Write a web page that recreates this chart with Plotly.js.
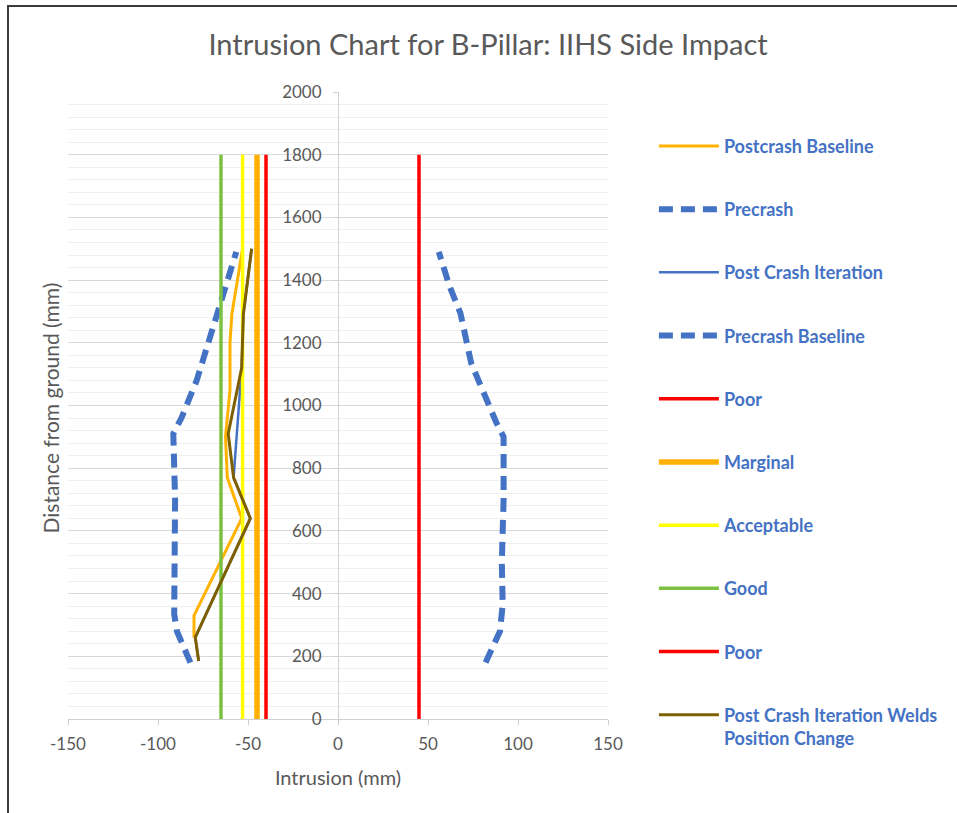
<!DOCTYPE html>
<html>
<head>
<meta charset="utf-8">
<script src="https://cdn.plot.ly/plotly-3.0.1.min.js"></script>
<style>
  html, body { margin: 0; padding: 0; background: #fff; }
  #frame { position: absolute; left: 0; top: 0; width: 957px; height: 813px; }
  #border { position: absolute; left: 7px; top: 5px; width: 960px; height: 820px; border-left: 2px solid #3a3a3a; border-top: 2px solid #3a3a3a; pointer-events: none; }
  #chart { position: absolute; left: 0; top: 0; width: 957px; height: 813px; }
</style>
</head>
<body>
<div id="frame">
  <div id="chart"></div>
  <div id="border"></div>
</div>
<script>
// ---- data ----
const postcrashBaselineY = [1500, 1290, 1200, 1050, 900, 770, 640, 330, 260];
const postcrashBaselineX = [-53, -59, -60, -60, -62.5, -61.5, -53.5, -80, -80];

const precrashY = [180, 280, 335, 500, 700, 910, 960, 1080, 1180, 1295, 1490];
const precrashX = [-82, -89.5, -91, -90.5, -90.5, -91.5, -87, -78.5, -73, -67.5, -56.5];

const postIterY = [1500, 1290, 1120, 910, 770, 640, 260, 185];
const postIterX = [-48, -52.6, -53.5, -56, -58, -48.7, -79.3, -77.4];

const precrashBaselineY = [180, 280, 365, 500, 700, 900, 945, 1050, 1135, 1295, 1380, 1490];
const precrashBaselineX = [82, 90, 91.5, 91, 92, 92, 88, 80, 74, 68, 62, 56];

const limitY = [0, 1800];
const poorLeftX = -40;
const marginalX = -45;
const acceptableX = -53;
const goodX = -65;
const poorRightX = 45;

const weldsY = [1500, 1290, 1120, 910, 770, 640, 260, 185];
const weldsX = [-48, -52.6, -53.5, -61, -58, -48.7, -79.3, -77.4];

const seriesNames = ["Postcrash Baseline", "Precrash", "Post Crash Iteration", "Precrash Baseline",
  "Poor", "Marginal", "Acceptable", "Good", "Poor", "Post Crash Iteration Welds<br>Position Change"];

const xTickVals = [-150, -100, -50, 0, 50, 100, 150];
const yTickVals = [0, 200, 400, 600, 800, 1000, 1200, 1400, 1600, 1800, 2000];

// ---- styles ----
const FONT = "Lato, 'Open Sans', sans-serif";
const GRAY = "#595959";
const BLUE = "#4472C4";

function vline(xv) { return [xv, xv]; }

const traces = [
  {x: postcrashBaselineX, y: postcrashBaselineY, name: seriesNames[0], line: {color: "#FFB300", width: 3}},
  {x: precrashX, y: precrashY, name: seriesNames[1], line: {color: BLUE, width: 6, dash: "14px,8px"}},
  {x: postIterX, y: postIterY, name: seriesNames[2], line: {color: BLUE, width: 2.5}},
  {x: precrashBaselineX, y: precrashBaselineY, name: seriesNames[3], line: {color: BLUE, width: 6, dash: "14px,8px"}},
  {x: vline(poorLeftX), y: limitY, name: seriesNames[4], line: {color: "#FF0000", width: 3.5}},
  {x: vline(marginalX), y: limitY, name: seriesNames[5], line: {color: "#FFB000", width: 5.5}},
  {x: vline(acceptableX), y: limitY, name: seriesNames[6], line: {color: "#FFFF00", width: 3.5}},
  {x: vline(goodX), y: limitY, name: seriesNames[7], line: {color: "#7CC043", width: 3.5}},
  {x: vline(poorRightX), y: limitY, name: seriesNames[8], line: {color: "#FF0000", width: 3.5}},
  {x: weldsX, y: weldsY, name: seriesNames[9], line: {color: "#7F6000", width: 3}}
].map((t, i) => Object.assign({type: "scatter", mode: "lines", legendgroup: "g" + i, hoverinfo: "skip"}, t));

const layout = {
  width: 957, height: 813,
  margin: {l: 68, r: 349, t: 92, b: 94, pad: 0},
  paper_bgcolor: "#fff", plot_bgcolor: "#fff",
  font: {family: FONT, color: GRAY, size: 16},
  title: {text: "Intrusion Chart for B-Pillar: IIHS Side Impact", font: {family: FONT, size: 29, color: GRAY},
          x: 0.51, xref: "container", xanchor: "center", y: 0.945, yanchor: "middle"},
  showlegend: true,
  legend: {x: 1.085, xanchor: "left", y: 0.943, yanchor: "top", traceorder: "grouped",
           tracegroupgap: 36.8, itemwidth: 60, valign: "top", maxheight: 790,
           font: {family: FONT, size: 18, color: BLUE, weight: "bold"}, bgcolor: "rgba(0,0,0,0)"},
  xaxis: {range: [-150, 150], tickvals: xTickVals, ticktext: xTickVals.map(String),
          showgrid: false, zeroline: false, showline: true, linecolor: "#d0d0d0", linewidth: 1,
          ticks: "outside", ticklen: 5, tickcolor: "#d0d0d0", tickfont: {size: 17, color: GRAY},
          ticklabelstandoff: 5,
          title: {text: "Intrusion (mm)", font: {size: 20, color: GRAY}, standoff: 17}, fixedrange: true},
  yaxis: {range: [0, 2000], tickvals: yTickVals, ticktext: yTickVals.map(String),
          anchor: "free", position: 0.5, showline: true, linecolor: "#d0d0d0", linewidth: 1,
          ticks: "outside", ticklen: 5, tickcolor: "#d0d0d0", tickfont: {size: 17, color: GRAY},
          ticklabelstandoff: 8,
          showgrid: true, gridcolor: "#d9d9d9", gridwidth: 1, zeroline: false,
          minor: {dtick: 40, showgrid: true, gridcolor: "#efefef", gridwidth: 1, ticks: ""},
          fixedrange: true},
  annotations: [{text: "Distance from ground (mm)", xref: "paper", yref: "paper",
                 x: -0.033, y: 0.4955, xanchor: "center", yanchor: "middle", textangle: -90,
                 showarrow: false, font: {family: FONT, size: 21, color: GRAY}}]
};

Plotly.newPlot("chart", traces, layout, {displayModeBar: false, staticPlot: true});
</script>
</body>
</html>
